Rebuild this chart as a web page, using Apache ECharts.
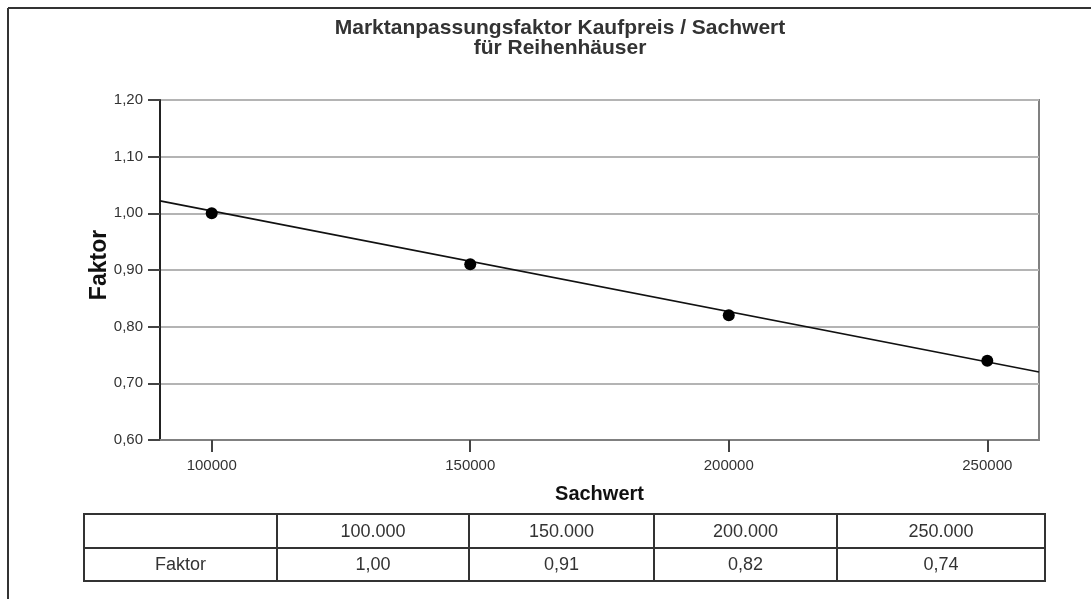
<!DOCTYPE html>
<html>
<head>
<meta charset="utf-8">
<style>
  html, body { margin: 0; padding: 0; background: #fff; }
  #chart { width: 1091px; height: 599px; }
</style>
<script src="https://cdn.jsdelivr.net/npm/echarts@6/dist/echarts.min.js"></script>
</head>
<body>
<div id="chart"></div>
<script>
// Sachwert classes and the market adjustment factor for each
const sachwert = [100000, 150000, 200000, 250000];
const faktor = [1.00, 0.91, 0.82, 0.74];
// Regression line across the visible x range
const trendX = [90000, 260000];
const trendY = [1.022, 0.72];
// Y axis range and tick spacing
const yTicks = { min: 0.6, max: 1.2, step: 0.1 };
const titleLines = ['Marktanpassungsfaktor Kaufpreis / Sachwert', 'für Reihenhäuser'];
const xName = 'Sachwert';
const yName = 'Faktor';
const rowLabel = 'Faktor';

const FONT = '"Liberation Sans", Arial, sans-serif';
const TEXT = '#333';

const fmtComma = v => v.toFixed(2).replace('.', ',');
const fmtThousands = v => String(v).replace(/\B(?=(\d{3})+(?!\d))/g, '.');

// Table below the chart, built from the same arrays
const colEdges = [84, 277, 469, 654, 837, 1045];
const rowEdges = [514, 548, 581];
const tableRows = [
  [''].concat(sachwert.map(fmtThousands)),
  [rowLabel].concat(faktor.map(fmtComma))
];
const tableGraphics = [];
tableRows.forEach((row, r) => {
  row.forEach((txt, c) => {
    const x0 = colEdges[c], x1 = colEdges[c + 1];
    const y0 = rowEdges[r], y1 = rowEdges[r + 1];
    tableGraphics.push({
      type: 'rect',
      shape: { x: x0, y: y0, width: x1 - x0, height: y1 - y0 },
      style: { fill: 'none', stroke: '#333', lineWidth: 2 },
      z: 10
    });
    if (txt) {
      tableGraphics.push({
        type: 'text',
        x: (x0 + x1) / 2, y: (y0 + y1) / 2 + 1,
        style: { text: txt, font: '18px ' + FONT, fill: TEXT, align: 'center', verticalAlign: 'middle' },
        z: 11
      });
    }
  });
});

// Outer frame (top and left edges) and the vertical axis title
const extraGraphics = [
  { type: 'line', shape: { x1: 8, y1: 8, x2: 1091, y2: 8 }, style: { stroke: '#333', lineWidth: 2 } },
  { type: 'line', shape: { x1: 8, y1: 8, x2: 8, y2: 599 }, style: { stroke: '#333', lineWidth: 2 } },
  {
    type: 'text', x: 100, y: 265, rotation: Math.PI / 2,
    style: { text: yName, font: 'bold 23px ' + FONT, fill: '#111', align: 'center', verticalAlign: 'middle' }
  }
];

const chart = echarts.init(document.getElementById('chart'), null, { renderer: 'canvas' });
chart.setOption({
  animation: false,
  backgroundColor: '#fff',
  textStyle: { fontFamily: FONT },
  title: {
    text: titleLines.join('\n'),
    left: 555,
    top: 13,
    textAlign: 'center',
    textStyle: { fontFamily: FONT, fontSize: 21, fontWeight: 'bold', color: TEXT, lineHeight: 20 }
  },
  grid: {
    left: 160, top: 100, right: 52, bottom: 159,
    show: true, borderColor: '#808080', borderWidth: 2, backgroundColor: 'transparent'
  },
  xAxis: {
    type: 'value',
    min: trendX[0], max: trendX[1],
    name: xName,
    nameLocation: 'middle',
    nameGap: 44,
    nameTextStyle: { fontFamily: FONT, fontSize: 20, fontWeight: 'bold', color: '#111' },
    axisLine: { show: true, onZero: false, lineStyle: { color: '#808080', width: 2 } },
    axisTick: { show: true, length: 12, customValues: sachwert, lineStyle: { color: '#444', width: 2 } },
    axisLabel: { customValues: sachwert, fontSize: 15, color: TEXT, margin: 18, formatter: v => String(v) },
    splitLine: { show: false }
  },
  yAxis: {
    type: 'value',
    min: yTicks.min, max: yTicks.max, interval: yTicks.step,
    axisLine: { show: true, onZero: false, lineStyle: { color: '#222', width: 2 } },
    axisTick: { show: true, length: 12, lineStyle: { color: '#444', width: 2 } },
    axisLabel: { fontSize: 15, color: TEXT, margin: 17, formatter: v => fmtComma(v) },
    splitLine: { show: true, lineStyle: { color: '#b4b4b4', width: 2 } }
  },
  series: [
    {
      type: 'line',
      data: trendX.map((x, i) => [x, trendY[i]]),
      showSymbol: false,
      lineStyle: { color: '#111', width: 1.6 },
      z: 3
    },
    {
      type: 'scatter',
      data: sachwert.map((x, i) => [x, faktor[i]]),
      symbolSize: 12,
      itemStyle: { color: '#000', opacity: 1 },
      z: 4
    }
  ],
  graphic: extraGraphics.concat(tableGraphics)
});
</script>
</body>
</html>
